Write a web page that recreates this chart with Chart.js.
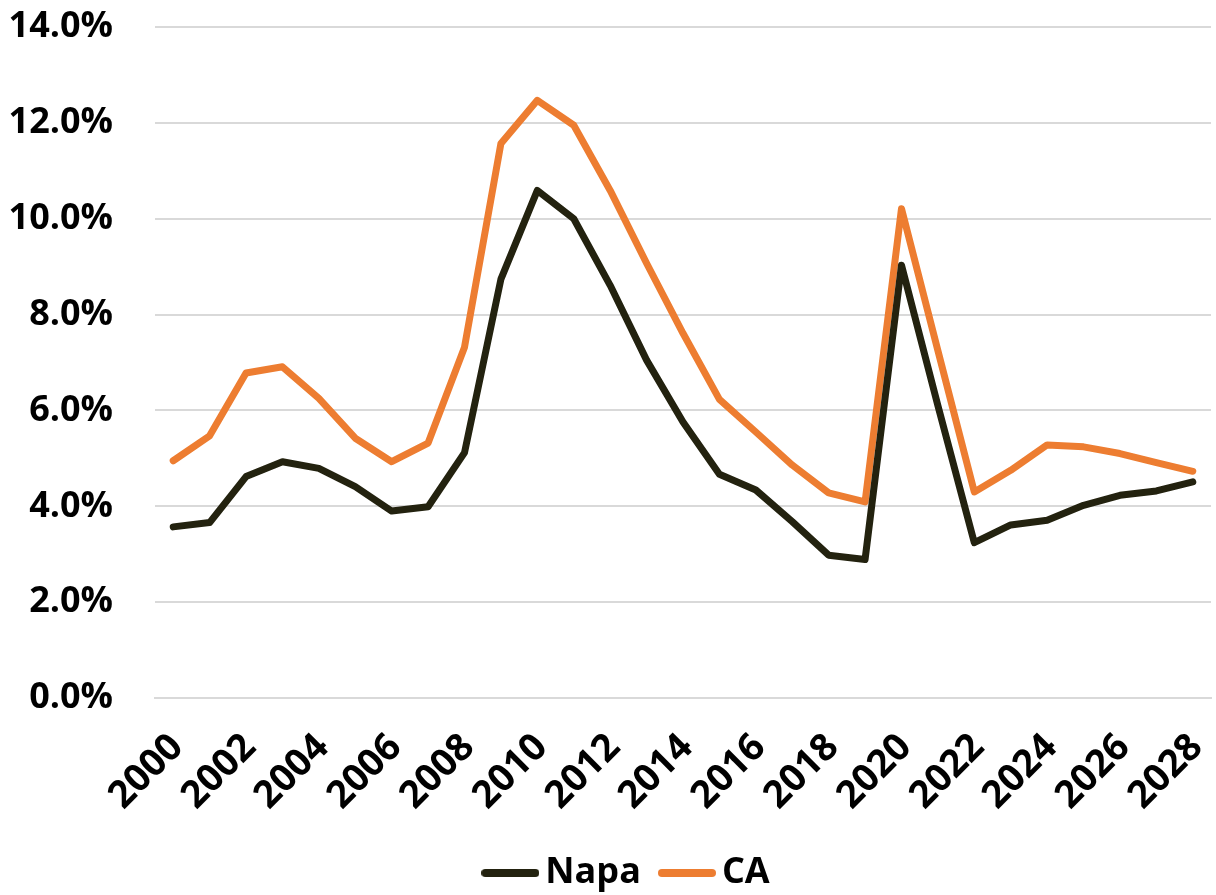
<!DOCTYPE html>
<html>
<head>
<meta charset="utf-8">
<title>Unemployment Rate: Napa vs CA</title>
<script src="https://cdn.jsdelivr.net/npm/chart.js@4.4.1/dist/chart.umd.min.js"></script>
<style>
  html, body { margin: 0; padding: 0; background: #ffffff; }
  #wrap { width: 1216px; height: 895px; position: relative; }
</style>
</head>
<body>
<div id="wrap"><canvas id="chart"></canvas></div>
<script>
// Years on the category axis
const years = ['2000','2001','2002','2003','2004','2005','2006','2007','2008','2009',
  '2010','2011','2012','2013','2014','2015','2016','2017','2018','2019',
  '2020','2021','2022','2023','2024','2025','2026','2027','2028'];

// Unemployment rate, percent
const napaRates = [3.57, 3.66, 4.62, 4.93, 4.79, 4.41, 3.90, 3.99, 5.12, 8.74,
  10.59, 10.00, 8.61, 7.05, 5.76, 4.67, 4.34, 3.68, 2.98, 2.89,
  9.03, 6.10, 3.24, 3.61, 3.71, 4.02, 4.23, 4.32, 4.51];
const caRates = [4.95, 5.47, 6.78, 6.91, 6.25, 5.42, 4.93, 5.32, 7.32, 11.57,
  12.47, 11.95, 10.59, 9.07, 7.61, 6.23, 5.55, 4.86, 4.28, 4.09,
  10.21, 7.25, 4.30, 4.75, 5.28, 5.24, 5.10, 4.91, 4.73];

// Y axis tick values
const yTicks = [0, 2, 4, 6, 8, 10, 12, 14];

const NAPA_COLOR = '#23220f';
const CA_COLOR = '#ed7d31';
const FONT = "'Open Sans', 'Liberation Sans', sans-serif";

// Short line swatch used as the legend marker
function swatch(color) {
  const c = document.createElement('canvas');
  c.width = 58; c.height = 10;
  const g = c.getContext('2d');
  g.strokeStyle = color;
  g.lineWidth = 8;
  g.lineCap = 'round';
  g.beginPath();
  g.moveTo(4, 5);
  g.lineTo(54, 5);
  g.stroke();
  return c;
}

function series(label, values, color) {
  return {
    label: label,
    data: values,
    borderColor: color,
    backgroundColor: color,
    borderWidth: 7,
    pointRadius: 0,
    pointHoverRadius: 0,
    tension: 0,
    borderJoinStyle: 'round',
    borderCapStyle: 'round',
    pointStyle: swatch(color)
  };
}

// Nudge the legend row to the right of the canvas centre
const legendShift = {
  id: 'legendShift',
  afterLayout(chart) {
    const lg = chart.legend;
    if (lg) { lg.left += 26; lg.right += 26; }
  }
};

const ctx = document.getElementById('chart');
new Chart(ctx, {
  type: 'line',
  data: {
    labels: years,
    datasets: [
      series('Napa', napaRates, NAPA_COLOR),
      series('CA', caRates, CA_COLOR)
    ]
  },
  plugins: [legendShift],
  options: {
    responsive: true,
    maintainAspectRatio: false,
    animation: false,
    layout: { padding: { top: 27, right: 5, bottom: 0, left: 0 } },
    plugins: {
      tooltip: { enabled: false },
      legend: {
        position: 'bottom',
        maxHeight: 69,
        labels: {
          usePointStyle: true,
          pointStyleWidth: 34,
          boxHeight: 10,
          padding: 29,
          color: '#000000',
          font: { family: FONT, size: 36, weight: 'bold' }
        }
      }
    },
    scales: {
      x: {
        type: 'category',
        offset: true,
        grid: { display: false, drawTicks: false },
        border: { display: true, color: '#d9d9d9', width: 2 },
        ticks: {
          autoSkip: false,
          maxRotation: 45,
          minRotation: 45,
          padding: 27,
          labelOffset: 4,
          color: '#000000',
          font: { family: FONT, size: 38, weight: 'bold' },
          callback: function (value, index) {
            return index % 2 === 0 ? this.getLabelForValue(value) : '';
          }
        },
        afterFit: function (scale) {
          scale.height = 128;
          scale.paddingLeft = 0;
          scale.paddingRight = 0;
        }
      },
      y: {
        min: 0,
        max: 14,
        afterBuildTicks: function (scale) {
          scale.ticks = yTicks.map(v => ({ value: v }));
        },
        grid: {
          color: '#d9d9d9',
          lineWidth: 2,
          drawTicks: true,
          tickLength: 42,
          tickColor: 'rgba(0,0,0,0)'
        },
        border: { display: false },
        ticks: {
          padding: 0,
          color: '#000000',
          font: { family: FONT, size: 36, weight: 'bold' },
          callback: function (value) { return value.toFixed(1) + '%'; }
        },
        afterFit: function (scale) { scale.width = 155; }
      }
    }
  }
});
</script>
</body>
</html>
